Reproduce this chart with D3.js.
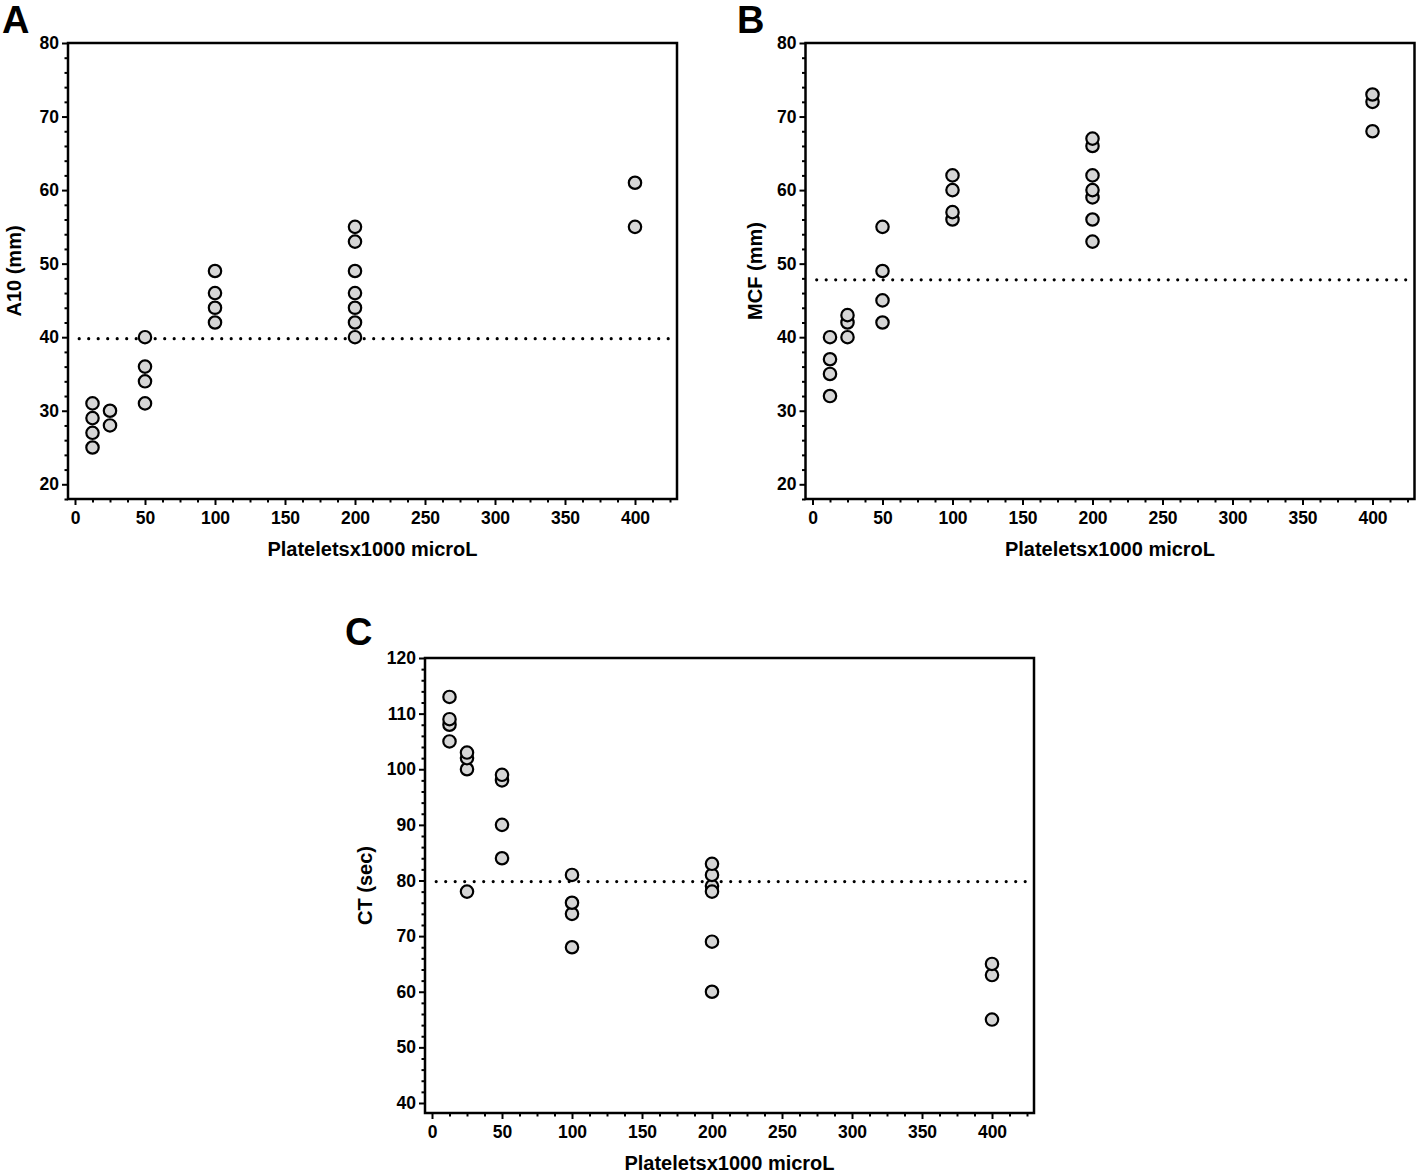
<!DOCTYPE html>
<html>
<head>
<meta charset="utf-8">
<script src="https://cdn.jsdelivr.net/npm/d3@7"></script>
<style>
    body { margin: 0; background: #fff; }
    svg { display: block; }
    text { font-family: "Liberation Sans", Arial, sans-serif; font-weight: bold; fill: #000; }
</style>
</head>
<body>
<svg id="chart" width="1418" height="1176"></svg>
<script>
// platelet count groups (x1000 / microL)
var plateletGroups = [12.5, 25, 50, 100, 200, 400];

// measured values per group, in drawing order (later ones sit on top)
var a10Values = [[25, 27, 29, 31], [28, 30], [31, 34, 36, 40], [42, 44, 46, 49], [40, 42, 44, 46, 49, 53, 55], [55, 61]];
var mcfValues = [[32, 35, 37, 40], [40, 42, 43], [42, 45, 49, 55], [56, 57, 60, 62], [53, 56, 59, 60, 62, 66, 67], [68, 72, 73]];
var ctValues = [[105, 108, 109, 113], [78, 100, 102, 103], [84, 90, 98, 99], [68, 74, 76, 81], [60, 69, 79, 78, 81, 83], [55, 63, 65]];

// dotted reference lines
var a10Reference = 39.8;
var mcfReference = 47.8;
var ctReference = 79.8;

// tick labels
var xTicks = [0, 50, 100, 150, 200, 250, 300, 350, 400];
var a10Ticks = [20, 30, 40, 50, 60, 70, 80];
var mcfTicks = [20, 30, 40, 50, 60, 70, 80];
var ctTicks = [40, 50, 60, 70, 80, 90, 100, 110, 120];

var xTitle = 'Plateletsx1000 microL';

function toPoints(values) {
    var points = [];
    values.forEach(function (group, i) {
        group.forEach(function (v) {
            points.push({ x: plateletGroups[i], y: v });
        });
    });
    return points;
}

function styleAxis(a, fontSize) {
    a.select('.domain').remove();
    a.selectAll('line').attr('stroke-width', 2);
    if (fontSize) {
        a.selectAll('text').style('font-size', fontSize);
    }
}

function drawPanel(svg, opts) {
    var x = d3.scaleLinear().domain([-5, 430]).range([opts.left, opts.right]);
    var y = d3.scaleLinear().domain(opts.yDomain).range([opts.bottom, opts.top]);
    var g = svg.append('g');

    // minor ticks
    var xMinor = d3.range(0, 430, 12.5).filter(function (d) { return d % 50 !== 0; });
    var yMinor = d3.range(Math.ceil(opts.yDomain[0] / 2) * 2, opts.yDomain[1], 2).filter(function (d) { return d % 10 !== 0; });

    g.append('g')
        .attr('transform', 'translate(0,' + opts.bottom + ')')
        .call(d3.axisBottom(x).tickValues(xMinor).tickSize(3.5).tickFormat(''))
        .call(styleAxis);

    g.append('g')
        .attr('transform', 'translate(' + opts.left + ',0)')
        .call(d3.axisLeft(y).tickValues(yMinor).tickSize(3.5).tickFormat(''))
        .call(styleAxis);

    g.append('g')
        .attr('transform', 'translate(0,' + opts.bottom + ')')
        .call(d3.axisBottom(x).tickValues(xTicks).tickSize(6).tickPadding(7))
        .call(styleAxis, '17.5px');

    g.append('g')
        .attr('transform', 'translate(' + opts.left + ',0)')
        .call(d3.axisLeft(y).tickValues(opts.yTicks).tickSize(6).tickPadding(3))
        .call(styleAxis, '17.5px');

    // frame
    g.append('rect')
        .attr('x', opts.left)
        .attr('y', opts.top)
        .attr('width', opts.right - opts.left)
        .attr('height', opts.bottom - opts.top)
        .attr('fill', 'none')
        .attr('stroke', '#000')
        .attr('stroke-width', 2.5);

    // dotted reference
    g.append('line')
        .attr('x1', x(3))
        .attr('x2', opts.right - 6)
        .attr('y1', y(opts.reference))
        .attr('y2', y(opts.reference))
        .attr('stroke', '#000')
        .attr('stroke-width', 3.2)
        .attr('stroke-linecap', 'round')
        .attr('stroke-dasharray', '0,9.5');

    g.selectAll('circle.pt')
        .data(toPoints(opts.values))
        .enter().append('circle')
        .attr('class', 'pt')
        .attr('cx', function (d) { return x(d.x); })
        .attr('cy', function (d) { return y(d.y); })
        .attr('r', 6.2)
        .attr('fill', '#d6d6d6')
        .attr('stroke', '#000')
        .attr('stroke-width', 2.2);

    g.append('text')
        .attr('x', (opts.left + opts.right) / 2)
        .attr('y', opts.bottom + 57)
        .attr('text-anchor', 'middle')
        .style('font-size', '20px')
        .text(xTitle);

    g.append('text')
        .attr('transform', 'translate(' + opts.yTitleX + ',' + (opts.top + opts.bottom) / 2 + ') rotate(-90)')
        .attr('text-anchor', 'middle')
        .style('font-size', '20px')
        .text(opts.yTitle);

    g.append('text')
        .attr('x', opts.letterX)
        .attr('y', opts.letterY)
        .style('font-size', '38px')
        .text(opts.letter);
}

var svg = d3.select('#chart');
svg.append('rect').attr('width', 1418).attr('height', 1176).attr('fill', '#fff');

drawPanel(svg, {
    left: 68, right: 677, top: 43, bottom: 499,
    yDomain: [18, 80], yTicks: a10Ticks, values: a10Values, reference: a10Reference,
    yTitle: 'A10 (mm)', yTitleX: 21, letter: 'A', letterX: 2, letterY: 33
});

drawPanel(svg, {
    left: 805.5, right: 1414.5, top: 43, bottom: 499,
    yDomain: [18, 80], yTicks: mcfTicks, values: mcfValues, reference: mcfReference,
    yTitle: 'MCF (mm)', yTitleX: 762, letter: 'B', letterX: 737, letterY: 33
});

drawPanel(svg, {
    left: 425, right: 1034, top: 658, bottom: 1113,
    yDomain: [38.2, 120], yTicks: ctTicks, values: ctValues, reference: ctReference,
    yTitle: 'CT (sec)', yTitleX: 372, letter: 'C', letterX: 345, letterY: 645
});
</script>
</body>
</html>
